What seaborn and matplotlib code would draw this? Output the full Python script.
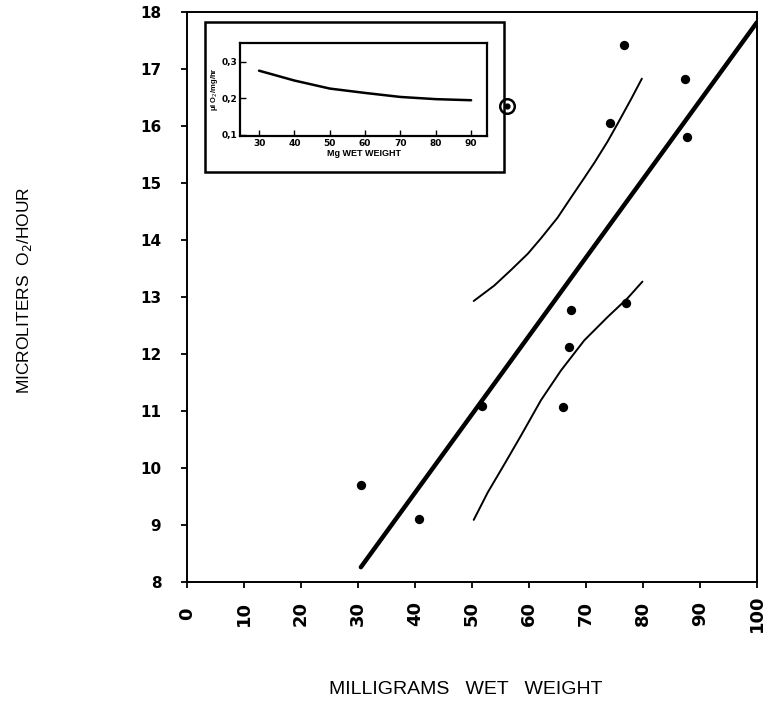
import matplotlib
matplotlib.use("Agg")
import matplotlib.pyplot as plt
from matplotlib.patches import Rectangle
import seaborn as sns
import pandas as pd

# Oxygen consumption vs. wet weight, individual animals
weight_mg = [30.5, 40.7, 51.7, 65.9, 67.1, 67.4, 77.1, 74.2, 76.7, 87.4, 87.7]
o2_ul_hr = [9.71, 9.11, 11.09, 11.07, 12.12, 12.77, 12.89, 16.06, 17.42, 16.82, 15.80]

# Excluded (circled) observation
outlier_x = [56.1]
outlier_y = [16.35]

# Fitted regression line
fit_x = [30.5, 100.0]
fit_y = [8.26, 17.82]

# Confidence limits around the fit
upper_x = [50.3, 53.9, 56.8, 59.8, 62.1, 65.0, 67.4, 69.7, 71.5, 73.8, 75.6, 77.9, 79.8]
upper_y = [12.93, 13.20, 13.47, 13.76, 14.03, 14.39, 14.75, 15.09, 15.36, 15.73, 16.05, 16.47, 16.83]
lower_x = [50.3, 52.75, 55.7, 58.6, 62.1, 65.6, 69.7, 73.8, 77.3, 79.9]
lower_y = [9.09, 9.57, 10.07, 10.57, 11.19, 11.71, 12.24, 12.65, 12.98, 13.27]

# Inset: weight-specific rate
inset_x = [30, 40, 50, 60, 70, 80, 90]
inset_y = [0.276, 0.249, 0.227, 0.215, 0.204, 0.198, 0.195]

x_ticks = list(range(0, 101, 10))
y_ticks = list(range(8, 19))
inset_xticks = [30, 40, 50, 60, 70, 80, 90]
inset_yticks = [0.1, 0.2, 0.3]
inset_ylabels = ["0,1", "0,2", "0,3"]

sns.set_style("ticks")
plt.rcParams["font.family"] = ["Liberation Sans", "DejaVu Sans"]
plt.rcParams.update({"text.color": "black", "axes.labelcolor": "black",
                     "xtick.color": "black", "ytick.color": "black"})
tick_font = {"family": "DejaVu Sans", "weight": "bold"}

fig = plt.figure(figsize=(7.69, 7.09), dpi=100)
ax = fig.add_axes([0.2432, 0.1791, 0.7412, 0.804])

pts = pd.DataFrame({"w": weight_mg, "o2": o2_ul_hr})
sns.scatterplot(data=pts, x="w", y="o2", ax=ax, color="black", s=45,
                edgecolor="black", linewidth=0, zorder=5)

sns.lineplot(x=fit_x, y=fit_y, ax=ax, color="black", linewidth=3.2,
             sort=False, estimator=None)
sns.lineplot(x=upper_x, y=upper_y, ax=ax, color="black", linewidth=1.4,
             sort=False, estimator=None)
sns.lineplot(x=lower_x, y=lower_y, ax=ax, color="black", linewidth=1.4,
             sort=False, estimator=None)

ax.scatter(outlier_x, outlier_y, s=110, facecolor="white", edgecolor="black",
           linewidth=1.8, zorder=7, clip_on=False)
ax.scatter(outlier_x, outlier_y, s=12, color="black", zorder=8, clip_on=False)

ax.set_xlim(0, 100)
ax.set_ylim(8, 18)
ax.set_xticks(x_ticks)
ax.set_yticks(y_ticks)
ax.set_xticklabels([str(t) for t in x_ticks], rotation=90, fontsize=13,
                   fontdict=tick_font, color="black")
ax.set_yticklabels([str(t) for t in y_ticks], fontsize=11, fontdict=tick_font,
                   color="black")
for lab in ax.get_xticklabels():
    lab.set_verticalalignment("center")
ax.tick_params(axis="both", direction="out", length=4.5, width=1.3,
               color="black", labelcolor="black")
ax.tick_params(axis="x", pad=18)
ax.tick_params(axis="y", pad=14)
for s in ax.spines.values():
    s.set_visible(True)
    s.set_linewidth(1.4)
    s.set_color("black")

ax.set_xlabel("")
ax.set_ylabel("")
fig.text(0.606, 0.027, "MILLIGRAMS   WET   WEIGHT", ha="center", va="center",
         fontsize=14, color="black")
fig.text(0.0325, 0.59, "MICROLITERS  O$_2$/HOUR", ha="center", va="center",
         rotation=90, fontsize=12.5, color="black")

# Frame around the inset
fig.patches.append(Rectangle((0.2666, 0.7574), 0.3888, 0.2116,
                             transform=fig.transFigure, fill=False,
                             edgecolor="black", linewidth=1.8, zorder=3))

ins = fig.add_axes([0.3121, 0.8082, 0.3212, 0.1312])
sns.lineplot(x=inset_x, y=inset_y, ax=ins, color="black", linewidth=1.8,
             sort=False, estimator=None)
ins.set_xlim(24.6, 94.5)
ins.set_ylim(0.097, 0.352)
ins.set_xticks(inset_xticks)
ins.set_yticks(inset_yticks)
ins.set_xticklabels([str(t) for t in inset_xticks], fontsize=6.5,
                    fontdict=tick_font, color="black")
ins.set_yticklabels(inset_ylabels, fontsize=6.5, fontdict=tick_font,
                    color="black")
ins.tick_params(axis="both", direction="in", length=4, width=1.0, pad=2,
                color="black", labelcolor="black")
for s in ins.spines.values():
    s.set_visible(True)
    s.set_linewidth(1.6)
    s.set_color("black")
ins.set_xlabel("Mg WET WEIGHT", fontsize=6.5, fontweight="bold", labelpad=1,
               color="black")
ins.set_ylabel("μl O$_2$/mg/hr", fontsize=5.5, fontweight="bold", labelpad=1,
               color="black")

fig.savefig("out.png", dpi=100)
